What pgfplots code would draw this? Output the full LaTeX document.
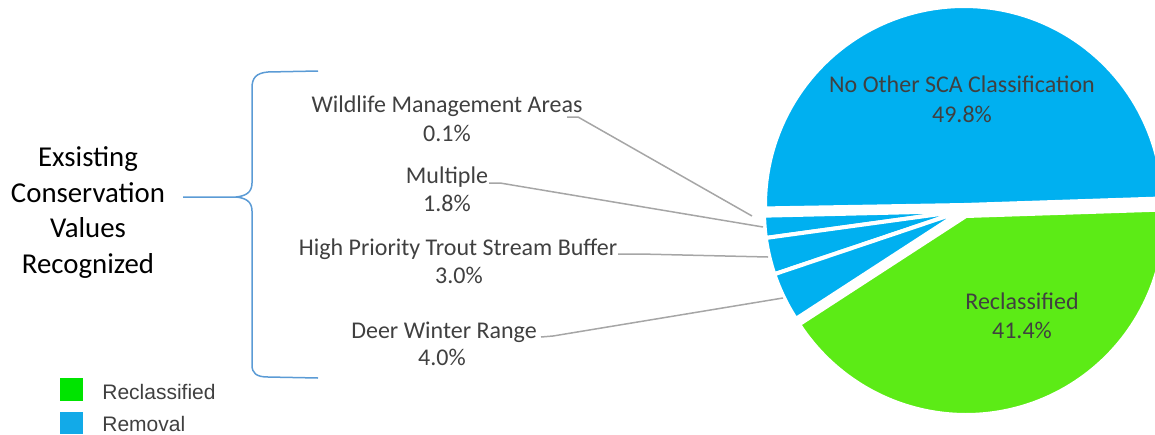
\documentclass[border=0pt]{standalone}
\usepackage{pgfplots}
\pgfplotsset{compat=1.18}
\usepackage{fontspec}
\setmainfont{Carlito}
\newfontfamily\arialf{Liberation Sans}
\definecolor{pieblue}{HTML}{00B0F0}
\definecolor{piegreen}{HTML}{5CEB16}
\definecolor{leggreen}{HTML}{00E400}
\definecolor{legblue}{HTML}{12AAE8}
\definecolor{lblgray}{HTML}{404040}
\definecolor{leadgray}{HTML}{A6A6A6}
\definecolor{bracecol}{HTML}{5B9BD5}

% data (percent)
\def\vRec{41.4}
\def\vNo{49.8}
\def\vW{0.1}
\def\vM{1.8}
\def\vT{3.0}
\def\vD{4.0}
\pgfmathsetmacro\tot{\vRec+\vNo+\vW+\vM+\vT+\vD}
\pgfmathsetmacro\pk{360/\tot}
\pgfmathsetmacro\aA{213}
\pgfmathsetmacro\aB{\aA+\pk*\vRec}
\pgfmathsetmacro\aC{\aB+\pk*\vNo}
\pgfmathsetmacro\aD{\aC+\pk*\vW}
\pgfmathsetmacro\aE{\aD+\pk*\vM}
\pgfmathsetmacro\aF{\aE+\pk*\vT}
\pgfmathsetmacro\aG{\aF+\pk*\vD}

\newcommand\pieslice[6]{%
  \addplot[fill=#1, draw=white, line width=2pt, line join=round,
    domain=#2:#3, samples=90, variable=\t]
    ({#4+#6*cos(\t)}, {#5-#6*sin(\t)}) -- (axis cs:#4,#5) -- cycle;
}

\begin{document}
\begin{tikzpicture}
\begin{axis}[
  scale only axis, width=577.5pt, height=217pt,
  xmin=0, xmax=1155, ymin=0, ymax=434, y dir=reverse,
  hide axis, clip=true,
]
\pieslice{piegreen}{\aA}{\aB}{966}{216}{199}
\pieslice{pieblue}{\aB}{\aC}{964}{205}{199}
\pieslice{pieblue}{\aC}{\aD}{962}{211}{198}
\pieslice{pieblue}{\aD}{\aE}{962}{211}{198}
\pieslice{pieblue}{\aE}{\aF}{962}{211}{198}
\pieslice{pieblue}{\aF}{\aG}{962}{211}{198}

% leader lines
\draw[leadgray, line width=0.75pt] (axis cs:567,117) -- (axis cs:578,117) -- (axis cs:752,216);
\draw[leadgray, line width=0.75pt] (axis cs:489,183) -- (axis cs:500,183) -- (axis cs:763,227);
\draw[leadgray, line width=0.75pt] (axis cs:618,254) -- (axis cs:640,254) -- (axis cs:768,257);
\draw[leadgray, line width=0.75pt] (axis cs:541,337) -- (axis cs:553,336) -- (axis cs:783,298);

% brace
\draw[bracecol, line width=0.75pt]
  (axis cs:318,71) -- (axis cs:268,72) .. controls (axis cs:256,73) and (axis cs:252,78) .. (axis cs:252,88)
  -- (axis cs:252,183) .. controls (axis cs:252,193) and (axis cs:245,196) .. (axis cs:236,197) -- (axis cs:183,197);
\draw[bracecol, line width=0.75pt]
  (axis cs:236,197) .. controls (axis cs:245,198) and (axis cs:252,201) .. (axis cs:252,211)
  -- (axis cs:252,365) .. controls (axis cs:252,373) and (axis cs:256,377) .. (axis cs:268,377) -- (axis cs:318,378);

% labels
\begin{scope}[every node/.style={anchor=base, inner sep=0pt, text=lblgray, font=\fontsize{12}{14}\selectfont}]
\node at (axis cs:447,112) {Wildlife Management Areas};
\node at (axis cs:447,141) {0.1\%};
\node at (axis cs:447,183) {Multiple};
\node at (axis cs:447,211) {1.8\%};
\node at (axis cs:458,255) {High Priority Trout Stream Buffer};
\node at (axis cs:459,283) {3.0\%};
\node at (axis cs:444,338) {Deer Winter Range};
\node at (axis cs:442,365) {4.0\%};
\node at (axis cs:962,92) {No Other SCA Classification};
\node at (axis cs:962,122) {49.8\%};
\node at (axis cs:1022,309) {Reclassified};
\node at (axis cs:1022,338) {41.4\%};
\end{scope}
\begin{scope}[every node/.style={anchor=base, inner sep=0pt, text=black, font=\fontsize{14.4}{17}\selectfont}]
\node at (axis cs:88,166) {Exsisting};
\node at (axis cs:88,202) {Conservation};
\node at (axis cs:88,237) {Values};
\node at (axis cs:88,273) {Recognized};
\end{scope}

% legend
\fill[leggreen] (axis cs:60,378) rectangle (axis cs:83,401);
\fill[legblue] (axis cs:60,412) rectangle (axis cs:83,434);
\node[anchor=base west, inner sep=0pt, text=lblgray, font=\arialf\fontsize{10.5}{12}\selectfont] at (axis cs:102,399) {Reclassified};
\node[anchor=base west, inner sep=0pt, text=lblgray, font=\arialf\fontsize{10.5}{12}\selectfont] at (axis cs:102,431) {Removal};
\end{axis}
\pgfresetboundingbox
\path (current axis.south west) rectangle (current axis.north east);
\end{tikzpicture}
\end{document}
